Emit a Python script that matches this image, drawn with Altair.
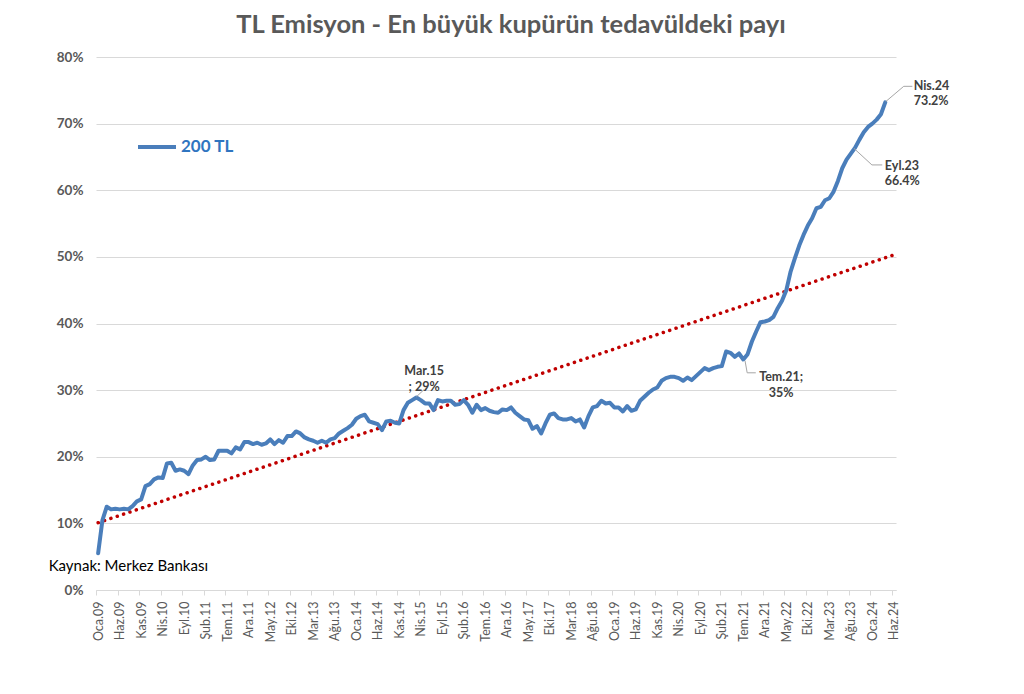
import altair as alt
import pandas as pd

# ---- data ----
tick_labels = ["Oca.09", "Haz.09", "Kas.09", "Nis.10", "Eyl.10", "Şub.11", "Tem.11", "Ara.11",
               "May.12", "Eki.12", "Mar.13", "Ağu.13", "Oca.14", "Haz.14", "Kas.14", "Nis.15",
               "Eyl.15", "Şub.16", "Tem.16", "Ara.16", "May.17", "Eki.17", "Mar.18", "Ağu.18",
               "Oca.19", "Haz.19", "Kas.19", "Nis.20", "Eyl.20", "Şub.21", "Tem.21", "Ara.21",
               "May.22", "Eki.22", "Mar.23", "Ağu.23", "Oca.24", "Haz.24"]

share_200tl = [
    5.5, 10.5, 12.5, 12.1, 12.2, 12.1, 12.2, 12.1, 12.6, 13.3,
    13.6, 15.6, 15.9, 16.6, 16.9, 16.8, 19.0, 19.1, 17.9, 18.1,
    17.9, 17.4, 18.7, 19.5, 19.6, 20.0, 19.5, 19.6, 20.9, 20.9,
    20.9, 20.5, 21.4, 21.1, 22.2, 22.2, 21.9, 22.1, 21.8, 22.0,
    22.6, 21.9, 22.5, 22.1, 23.1, 23.1, 23.8, 23.5, 22.9, 22.6,
    22.4, 22.1, 22.4, 22.1, 22.6, 22.8, 23.5, 23.9, 24.3, 24.8,
    25.7, 26.1, 26.3, 25.3, 25.1, 24.9, 24.0, 25.3, 25.4, 25.1,
    25.0, 27.0, 28.1, 28.5, 28.9, 28.5, 28.0, 28.0, 27.0, 28.5,
    28.3, 28.4, 28.4, 27.8, 27.9, 28.5, 27.8, 26.6, 27.8, 27.0,
    27.3, 26.9, 26.7, 26.6, 27.1, 27.0, 27.4, 26.6, 26.1, 25.6,
    25.5, 24.2, 24.6, 23.5, 25.0, 26.3, 26.5, 25.8, 25.6, 25.6,
    25.8, 25.3, 25.6, 24.4, 26.1, 27.4, 27.6, 28.4, 28.0, 28.1,
    27.4, 27.4, 26.8, 27.6, 26.9, 27.1, 28.4, 29.0, 29.6, 30.1,
    30.4, 31.4, 31.8, 32.0, 32.0, 31.8, 31.4, 31.9, 31.5, 32.1,
    32.7, 33.3, 33.0, 33.3, 33.5, 33.6, 35.8, 35.6, 35.0, 35.5,
    34.6, 35.4, 37.3, 38.8, 40.2, 40.3, 40.5, 41.0, 42.3, 43.4,
    45.0, 47.8, 49.8, 51.7, 53.3, 54.7, 55.8, 57.3, 57.5, 58.5,
    58.8, 59.8, 61.4, 63.3, 64.6, 65.5, 66.4, 67.6, 68.7, 69.5,
    70.0, 70.6, 71.4, 73.2,
]

trend_x = [0, 185]
trend_y = [10.1, 50.3]

ann_center_text = ["Mar.15\n; 29%", "Tem.21;\n35%"]
ann_center_x = [75.8, 158.8]
ann_center_y = [32.9, 32.0]

ann_left_text = ["Eyl.23\n66.4%", "Nis.24\n73.2%"]
ann_left_x = [182.9, 189.6]
ann_left_y = [63.6, 75.6]

leader_id = [1, 1, 2, 2, 2, 3, 3, 3, 4, 4, 4]
leader_x = [74.0, 75.8, 150.4, 150.9, 152.9, 175.7, 179.9, 182.3, 183.1, 187.3, 189.3]
leader_y = [29.0, 30.1, 34.4, 32.6, 32.6, 66.3, 63.8, 63.8, 73.3, 75.6, 75.6]

source_text = ["Kaynak: Merkez Bankası"]
source_x = [-11.5]
source_y = [3.6]

series_name = "200 TL"
title_text = "TL Emisyon - En büyük kupürün tedavüldeki payı"

# ---- tables ----
df = pd.DataFrame({"i": list(range(len(share_200tl))), "v": share_200tl, "series": series_name})
df_trend = pd.DataFrame({"i": trend_x, "v": trend_y})
df_ac = pd.DataFrame({"i": ann_center_x, "v": ann_center_y, "t": ann_center_text})
df_al = pd.DataFrame({"i": ann_left_x, "v": ann_left_y, "t": ann_left_text})
df_lead = pd.DataFrame({"g": leader_id, "i": leader_x, "v": leader_y, "o": list(range(len(leader_x)))})
df_src = pd.DataFrame({"i": source_x, "v": source_y, "t": source_text})

FONT = "Lato"
GRAY = "#595959"

label_js = "[" + ",".join("'" + l + "'" for l in tick_labels) + "][round(datum.value/5)]"

xscale = alt.Scale(domain=[-0.5, 185.5], nice=False, zero=False)
yscale = alt.Scale(domain=[0, 80], nice=False)

x_axis = alt.Axis(
    values=list(range(0, 186, 5)), labelExpr=label_js, labelAngle=270, grid=False, title=None,
    labelFont=FONT, labelFontSize=12.5, labelColor=GRAY, labelPadding=6,
    domainColor="#D9D9D9", tickColor="#D9D9D9", tickSize=5, tickOffset=-2.15, labelOffset=2.15,
    labelOverlap=False, labelBound=False, labelFlush=False,
)
y_axis = alt.Axis(
    values=list(range(0, 81, 10)), labelExpr="datum.value + '%'", grid=True, gridColor="#D9D9D9",
    gridWidth=1, domain=False, ticks=False, title=None, labelFont=FONT, labelFontSize=13.5,
    labelFontWeight="bold", labelColor=GRAY, labelPadding=13,
)

X = alt.X("i:Q", scale=xscale, axis=x_axis)
Y = alt.Y("v:Q", scale=yscale, axis=y_axis)

line = alt.Chart(df).mark_line(strokeWidth=4, strokeJoin="round", strokeCap="round").encode(
    x=X, y=Y,
    color=alt.Color("series:N", scale=alt.Scale(domain=[series_name], range=["#4A7EBB"]),
                    legend=alt.Legend(title=None, orient="none", legendX=40, legendY=69,
                                      symbolType="stroke", symbolSize=1444, symbolStrokeWidth=4,
                                      labelFont=FONT, labelFontSize=17, labelFontWeight="bold",
                                      labelColor="#2F75C0", labelOffset=3, padding=0)),
)

trend = alt.Chart(df_trend).mark_line(
    color="#C00000", strokeWidth=3.5, strokeDash=[0.1, 6.6], strokeCap="round"
).encode(x=X, y=Y)

leaders = alt.Chart(df_lead).mark_line(color="#A6A6A6", strokeWidth=1).encode(
    x=X, y=Y, detail="g:N", order="o:Q"
)

ann_c = alt.Chart(df_ac).mark_text(
    align="center", baseline="middle", lineBreak="\n", lineHeight=16,
    font=FONT, fontSize=12.5, fontWeight="bold", color="#404040"
).encode(x=X, y=Y, text="t:N")

ann_l = alt.Chart(df_al).mark_text(
    align="left", baseline="middle", lineBreak="\n", lineHeight=15,
    font=FONT, fontSize=12.5, fontWeight="bold", color="#404040"
).encode(x=X, y=Y, text="t:N")

src = alt.Chart(df_src).mark_text(
    align="left", baseline="middle", font=FONT, fontSize=15, color="#000000"
).encode(x=X, y=Y, text="t:N")

chart = alt.layer(trend, line, leaders, ann_c, ann_l, src).properties(
    width=800, height=533,
    title=alt.TitleParams(title_text, font=FONT, fontSize=25.5, fontWeight="bold", color=GRAY,
                          anchor="middle", frame="group", dx=15, offset=12),
    autosize=alt.AutoSizeParams(type="none"),
    padding={"left": 88, "top": 49, "right": 110, "bottom": 90},
).configure_view(stroke=None)

chart.save("out.html", embed_options={"renderer": "svg", "actions": False})
